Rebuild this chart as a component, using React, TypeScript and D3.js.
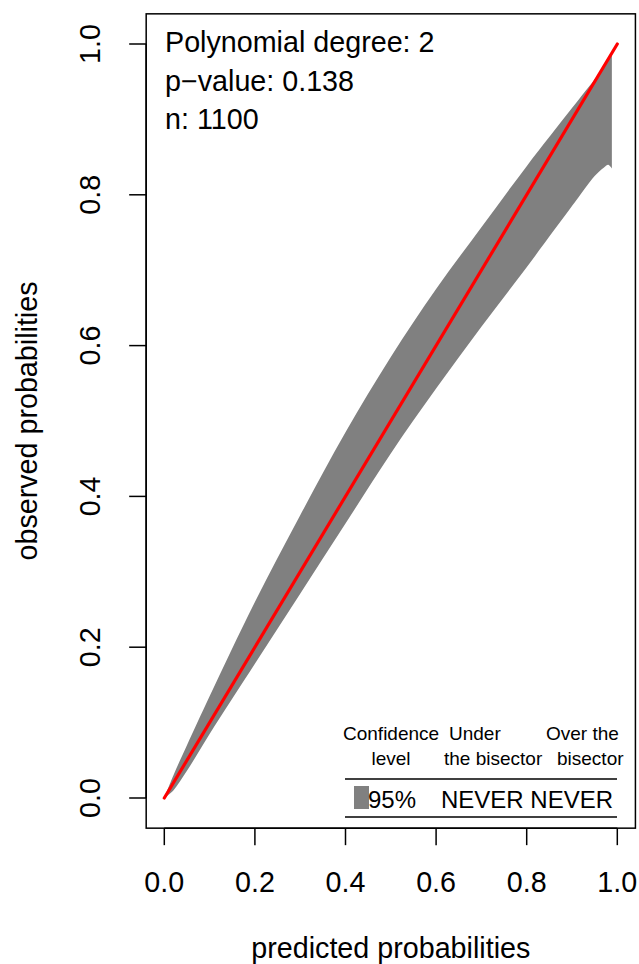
import React from "react";
import * as d3 from "d3";

// ---- data ----
const beltX = [0, 0.02, 0.05, 0.1, 0.2, 0.3, 0.4, 0.5, 0.6, 0.7, 0.8, 0.9, 0.95, 0.97, 0.98, 0.988];
const beltUpper = [0, 0.03, 0.07, 0.135, 0.26, 0.375, 0.485, 0.585, 0.675, 0.757, 0.838, 0.915, 0.953, 0.968, 0.978, 0.986];
const beltLower = [0, 0.01, 0.036, 0.085, 0.178, 0.271, 0.364, 0.457, 0.543, 0.625, 0.704, 0.785, 0.825, 0.836, 0.84, 0.835];
const bisectorX = [0, 1];
const bisectorY = [0, 1];
const xTicks = [0, 0.2, 0.4, 0.6, 0.8, 1.0];
const yTicks = [0, 0.2, 0.4, 0.6, 0.8, 1.0];
const infoLines = ["Polynomial degree: 2", "p\u2212value: 0.138", "n: 1100"];
const legendHeader1 = ["Confidence", "Under", "Over the"];
const legendHeader2 = ["level", "the bisector", "bisector"];
const legendRow = ["95%", "NEVER", "NEVER"];

const W = 639;
const H = 964;
const FONT = "'Liberation Sans', Arial, Helvetica, sans-serif";
const FS = 28.7;

export default function App() {
  const x = d3.scaleLinear().domain([0, 1]).range([164.3, 617.3]);
  const y = d3.scaleLinear().domain([0, 1]).range([798, 44]);
  const bx0 = x(-0.04), bx1 = x(1.04), by0 = y(-0.04), by1 = y(1.04);

  const pts = beltX.map((v, i) => ({ x: v, u: beltUpper[i], l: beltLower[i] }));
  const area = d3
    .area<{ x: number; u: number; l: number }>()
    .x((d) => x(d.x))
    .y0((d) => y(d.l))
    .y1((d) => y(d.u))
    .curve(d3.curveCatmullRom.alpha(0.5));
  const line = d3
    .line<number>()
    .x((d) => x(d))
    .y((_, i) => y(bisectorY[i]));

  const fmt = d3.format(".1f");
  const tick = 17;

  return (
    <div style={{ position: "absolute", left: 0, top: 0 }}>
      <svg width={W} height={H} style={{ display: "block", background: "#fff" }} fontFamily={FONT}>
        <path d={area(pts) || ""} fill="#808080" stroke="none" />
        <path d={line(bisectorX) || ""} fill="none" stroke="#ff0000" strokeWidth={3.2} strokeLinecap="round" />
        <rect x={bx0} y={by1} width={bx1 - bx0} height={by0 - by1} fill="none" stroke="#000" strokeWidth={1.5} />
        {/* x axis */}
        <line x1={x(0)} x2={x(1)} y1={by0} y2={by0} stroke="#000" strokeWidth={1.5} />
        {xTicks.map((t) => (
          <g key={"x" + t}>
            <line x1={x(t)} x2={x(t)} y1={by0} y2={by0 + tick} stroke="#000" strokeWidth={1.5} />
            <text x={x(t)} y={892} fontSize={FS} textAnchor="middle">{fmt(t)}</text>
          </g>
        ))}
        <text x={(bx0 + bx1) / 2} y={958} fontSize={FS} textAnchor="middle">predicted probabilities</text>
        {/* y axis */}
        <line x1={bx0} x2={bx0} y1={y(0)} y2={y(1)} stroke="#000" strokeWidth={1.5} />
        {yTicks.map((t) => (
          <g key={"y" + t}>
            <line x1={bx0} x2={bx0 - tick} y1={y(t)} y2={y(t)} stroke="#000" strokeWidth={1.5} />
            <text transform={`translate(100,${y(t)}) rotate(-90)`} fontSize={FS} textAnchor="middle">{fmt(t)}</text>
          </g>
        ))}
        <text transform={`translate(37,${(by0 + by1) / 2}) rotate(-90)`} fontSize={FS} textAnchor="middle">observed probabilities</text>
        {/* info text */}
        {infoLines.map((s, i) => (
          <text key={s} x={165} y={52 + i * 38.5} fontSize={FS}>{s}</text>
        ))}
        {/* legend */}
        <text x={343} y={740} fontSize={19}>{legendHeader1[0]}</text>
        <text x={391} y={765} fontSize={19} textAnchor="middle">{legendHeader2[0]}</text>
        <text x={449} y={740} fontSize={19}>{legendHeader1[1]}</text>
        <text x={444} y={765} fontSize={19}>{legendHeader2[1]}</text>
        <text x={546} y={740} fontSize={19}>{legendHeader1[2]}</text>
        <text x={557} y={765} fontSize={19}>{legendHeader2[2]}</text>
        <line x1={345} x2={617} y1={779} y2={779} stroke="#000" strokeWidth={1.5} />
        <rect x={354} y={786} width={15} height={23} fill="#808080" />
        <text x={368} y={807.5} fontSize={24}>{legendRow[0]}</text>
        <text x={441} y={807.5} fontSize={24}>{legendRow[1] + " " + legendRow[2]}</text>
        <line x1={345} x2={617} y1={817} y2={817} stroke="#000" strokeWidth={1.5} />
      </svg>
    </div>
  );
}
